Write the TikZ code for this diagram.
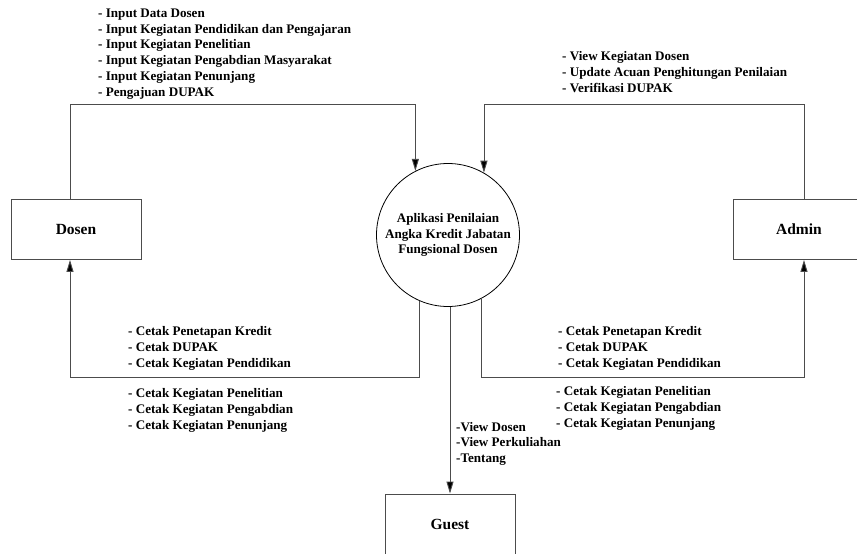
\documentclass[tikz,border=0pt]{standalone}
\usepackage{fontspec}
\setmainfont{Liberation Serif}
\usetikzlibrary{arrows.meta}
\tikzset{
  entity/.style={draw=black!70, line width=0.9pt, minimum width=130pt, minimum height=60pt,
    font=\fontsize{15.5}{18}\selectfont\bfseries},
  proc/.style={draw, circle, line width=0.8pt, minimum size=143pt, align=center,
    font=\fontsize{13.1}{15.2}\selectfont\bfseries},
  lbl/.style={anchor=base west, inner sep=0pt, align=left,
    font=\fontsize{13.1}{15.8}\selectfont\bfseries},
  flow/.style={draw=black!70, line width=0.9pt, -{Triangle[length=12pt,width=7pt,fill=black]}}
}
\begin{document}
\begin{tikzpicture}[x=1pt,y=-1pt]
  \useasboundingbox[fill=white] (0,0) rectangle (857,554);
        \node[entity] (dosen) at (76,229.5) {Dosen};
        \node[entity, minimum width=132pt] (admin) at (799,229.5) {Admin};
        \node[entity] (guest) at (450,524) {Guest};
        \node[proc] (app) at (448,235) {Aplikasi Penilaian\\Angka Kredit Jabatan\\Fungsional Dosen};
        %%
        \coordinate (topline) at (0,104);
        \coordinate (botline) at (0,377);
        \draw[flow] ([xshift=-6pt]dosen.north) |- (app.117 |- topline) -- (app.117);
        \draw[flow] ([xshift=5pt]admin.north) |- (app.60 |- topline) -- (app.60);
        \draw[flow] (app.247.5) -- (app.247.5 |- botline) -| ([xshift=-6pt]dosen.south);
        \draw[flow] (app.298.5) -- (app.298.5 |- botline) -| ([xshift=5pt]admin.south);
        \draw[flow] (app.south -| guest.north) -- (guest.north);
        %% text blocks, placed at the baseline of their last line
          \node[lbl] (dosenIn) at (98,96.3) {- Input Data Dosen\\- Input Kegiatan Pendidikan dan Pengajaran\\- Input Kegiatan Penelitian\\- Input Kegiatan Pengabdian Masyarakat\\- Input Kegiatan Penunjang\\- Pengajuan DUPAK};
          \node[lbl] (adminIn) at (562,92.3) {- View Kegiatan Dosen\\- Update Acuan Penghitungan Penilaian\\- Verifikasi DUPAK};
          \node[lbl] (dosenOutA) at (128,367.3) {- Cetak Penetapan Kredit\\- Cetak DUPAK\\- Cetak Kegiatan Pendidikan};
          \node[lbl] (dosenOutB) at (128,429.3) {- Cetak Kegiatan Penelitian\\- Cetak Kegiatan Pengabdian\\- Cetak Kegiatan Penunjang};
          \node[lbl] (adminOutA) at (558,367.3) {- Cetak Penetapan Kredit\\- Cetak DUPAK\\- Cetak Kegiatan Pendidikan};
          \node[lbl] (adminOutB) at (556,427.3) {- Cetak Kegiatan Penelitian\\- Cetak Kegiatan Pengabdian\\- Cetak Kegiatan Penunjang};
          \node[lbl] (guestOut) at (456,462.6) {-View Dosen\\-View Perkuliahan\\-Tentang};
\end{tikzpicture}
\end{document}
